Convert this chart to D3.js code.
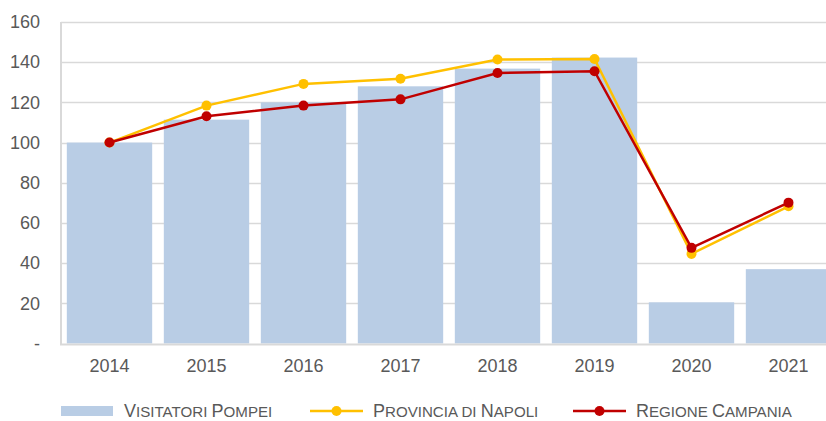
<!DOCTYPE html>
<html>
<head>
<meta charset="utf-8">
<script src="https://cdn.jsdelivr.net/npm/d3@7"></script>
<style>
  body { margin: 0; background: #fff; }
  text { font-family: "Liberation Sans", Arial, sans-serif; fill: #595959; }
</style>
</head>
<body>
<div id="chart"></div>
<script>
//DATA
let years = ["2014", "2015", "2016", "2017", "2018", "2019", "2020", "2021"];
let visitatoriPompei = [100, 111.4, 120, 128, 136.8, 142.3, 20.5, 37];
let provinciaNapoli = [100, 118.4, 129.2, 131.8, 141.3, 141.6, 44.6, 68.3];
let regioneCampania = [100, 113.1, 118.4, 121.5, 134.6, 135.5, 47.6, 70.1];
let yTicks = [0, 20, 40, 60, 80, 100, 120, 140, 160];

//GENERAL VARIABLE INITIALIZATION
let w = 826;
let h = 421;
let plotLeft = 61;
let plotTop = 22;
let plotBottom = 343.5;
let step = 97;
let fontSize = 18;

let svg = d3.select("#chart").append("svg")
    .attr("width", w)
    .attr("height", h);

let xScale = d3.scaleBand()
    .domain(years)
    .range([plotLeft, plotLeft + step * years.length])
    .paddingInner(0.12)
    .paddingOuter(0.06);

let yScale = d3.scaleLinear()
    .domain([0, 160])
    .range([plotBottom, plotTop]);

//GRIDLINES
svg.append("g")
    .selectAll("line")
    .data(yTicks.filter(d => d > 0))
    .enter().append("line")
    .attr("x1", plotLeft)
    .attr("x2", w)
    .attr("y1", d => Math.round(yScale(d)) + 0.5)
    .attr("y2", d => Math.round(yScale(d)) + 0.5)
    .attr("stroke", "#d9d9d9")
    .attr("stroke-width", 1.3);

//BARS
svg.append("g")
    .selectAll("rect")
    .data(visitatoriPompei)
    .enter().append("rect")
    .attr("x", (d, i) => xScale(years[i]))
    .attr("width", xScale.bandwidth())
    .attr("y", d => yScale(d))
    .attr("height", d => plotBottom - yScale(d))
    .attr("fill", "#b9cde5");

//AXES
let yAxis = d3.axisLeft(yScale)
    .tickValues(yTicks)
    .tickSize(0)
    .tickPadding(21)
    .tickFormat(d => d === 0 ? "-" : d);

let yG = svg.append("g")
    .attr("transform", "translate(" + plotLeft + ",0)")
    .call(yAxis);
yG.select(".domain").remove();
yG.selectAll("text").attr("font-size", fontSize).style("fill", "#595959");

let xAxis = d3.axisBottom(xScale).tickSize(0).tickPadding(16);
let xG = svg.append("g")
    .attr("transform", "translate(0," + plotBottom + ")")
    .call(xAxis);
xG.select(".domain").remove();
xG.selectAll("text").attr("font-size", fontSize).style("fill", "#595959");

svg.append("line")
    .attr("x1", plotLeft).attr("x2", plotLeft)
    .attr("y1", plotTop).attr("y2", plotBottom + 1)
    .attr("stroke", "#d9d9d9").attr("stroke-width", 2);
svg.append("line")
    .attr("x1", plotLeft - 1).attr("x2", w)
    .attr("y1", plotBottom + 1).attr("y2", plotBottom + 1)
    .attr("stroke", "#d9d9d9").attr("stroke-width", 2);

//LINES
let cx = (d, i) => xScale(years[i]) + xScale.bandwidth() / 2;
let line = d3.line().x(cx).y(d => yScale(d));

function drawSeries(values, color) {
  let g = svg.append("g");
  g.append("path")
      .datum(values)
      .attr("d", line)
      .attr("fill", "none")
      .attr("stroke", color)
      .attr("stroke-width", 2.5);
  g.selectAll("circle")
      .data(values)
      .enter().append("circle")
      .attr("cx", cx)
      .attr("cy", d => yScale(d))
      .attr("r", 5)
      .attr("fill", color);
}
drawSeries(provinciaNapoli, "#ffc000");
drawSeries(regioneCampania, "#c00000");

//LEGEND
// small caps by hand: capitals full size, other letters upper-cased and smaller
function smallCaps(textSel, label) {
  let runs = [];
  label.split("").forEach(function(ch) {
    let big = ch !== " " && ch === ch.toUpperCase();
    let last = runs[runs.length - 1];
    if (ch === " " && last) { last.t += ch; return; }
    if (last && last.big === big) last.t += ch.toUpperCase();
    else runs.push({big: big, t: ch.toUpperCase()});
  });
  runs.forEach(function(r) {
    textSel.append("tspan")
        .attr("font-size", r.big ? fontSize : fontSize * 0.84)
        .text(r.t);
  });
}

let legendY = 411;
let legend = svg.append("g");

legend.append("rect")
    .attr("x", 61).attr("y", legendY - 5)
    .attr("width", 52).attr("height", 10)
    .attr("fill", "#b9cde5");
let t0 = legend.append("text")
    .attr("x", 124).attr("y", legendY + 6)
    .style("white-space", "pre");
smallCaps(t0, "Visitatori Pompei");

let lineItems = [
  {label: "Provincia di Napoli", color: "#ffc000", x: 310},
  {label: "Regione Campania", color: "#c00000", x: 573}
];
lineItems.forEach(function(item) {
  legend.append("line")
      .attr("x1", item.x).attr("x2", item.x + 53)
      .attr("y1", legendY).attr("y2", legendY)
      .attr("stroke", item.color).attr("stroke-width", 2.5);
  legend.append("circle")
      .attr("cx", item.x + 26.5).attr("cy", legendY)
      .attr("r", 5).attr("fill", item.color);
  let t = legend.append("text")
      .attr("x", item.x + 63).attr("y", legendY + 6)
      .style("white-space", "pre");
  smallCaps(t, item.label);
});
</script>
</body>
</html>
